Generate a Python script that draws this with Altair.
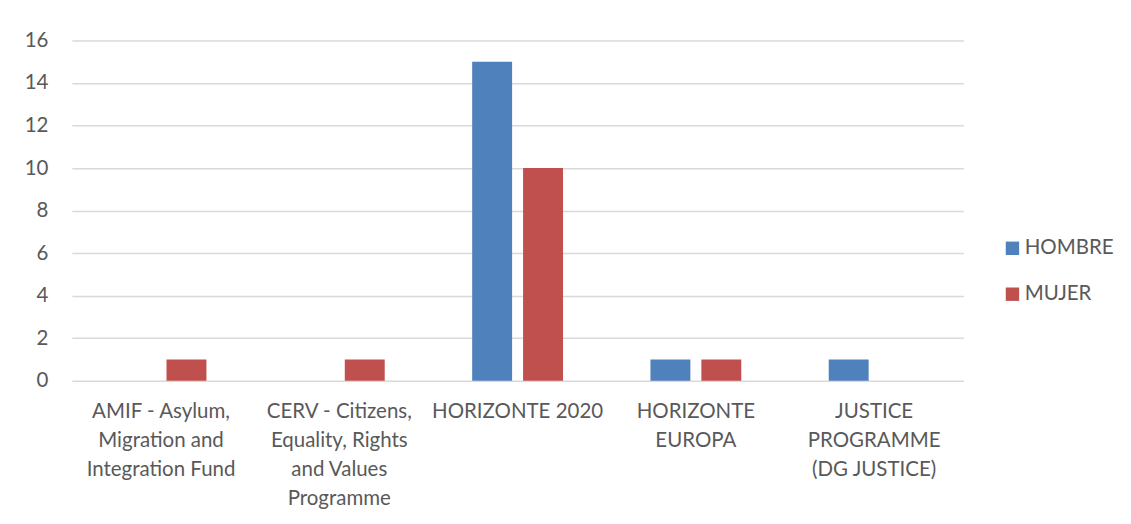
import altair as alt
import pandas as pd

categories = [
    "AMIF - Asylum, Migration and Integration Fund",
    "CERV - Citizens, Equality, Rights and Values Programme",
    "HORIZONTE 2020",
    "HORIZONTE EUROPA",
    "JUSTICE PROGRAMME (DG JUSTICE)",
]
wrapped = [
    ["AMIF - Asylum,", "Migration and", "Integration Fund"],
    ["CERV - Citizens,", "Equality, Rights", "and Values", "Programme"],
    ["HORIZONTE 2020"],
    ["HORIZONTE", "EUROPA"],
    ["JUSTICE", "PROGRAMME", "(DG JUSTICE)"],
]
series = ["HOMBRE", "MUJER"]
hombre = [0, 0, 15, 1, 1]
mujer = [1, 1, 10, 1, 0]
colors = ["#4F81BD", "#C0504D"]

rows = []
for c, h, m in zip(categories, hombre, mujer):
    rows.append({"cat": c, "serie": "HOMBRE", "val": h})
    rows.append({"cat": c, "serie": "MUJER", "val": m})
df = pd.DataFrame(rows)

expr_parts = []
for c, w in zip(categories, wrapped):
    arr = "[" + ",".join("'" + s + "'" for s in w) + "]"
    expr_parts.append(f"datum.label == '{c}' ? {arr}")
label_expr = " : ".join(expr_parts) + " : datum.label"

FONT = "Lato"
GRAY = "#595959"
FS = 20.5

chart = (
    alt.Chart(df)
    .mark_bar()
    .encode(
        x=alt.X(
            "cat:N",
            sort=categories,
            scale=alt.Scale(paddingInner=0, paddingOuter=0),
            axis=alt.Axis(
                title=None,
                labelAngle=0,
                labelExpr=label_expr,
                labelFont=FONT,
                labelFontSize=FS,
                labelColor=GRAY,
                labelLineHeight=29,
                labelPadding=21,
                labelBaseline="top",
                ticks=False,
                domain=False,
                labelLimit=300,
            ),
        ),
        xOffset=alt.XOffset(
            "serie:N",
            sort=series,
            scale=alt.Scale(paddingInner=0.2157, paddingOuter=0.859),
        ),
        y=alt.Y(
            "val:Q",
            scale=alt.Scale(domain=[0, 16], nice=False),
            axis=alt.Axis(
                title=None,
                values=list(range(0, 17, 2)),
                labelFont=FONT,
                labelFontSize=FS,
                labelColor=GRAY,
                labelPadding=24,
                ticks=False,
                domain=False,
                grid=True,
                gridColor="#d9d9d9",
                gridWidth=1.5,
            ),
        ),
        color=alt.Color(
            "serie:N",
            sort=series,
            scale=alt.Scale(domain=series, range=colors),
            legend=alt.Legend(
                title=None,
                orient="none",
                legendX=932,
                legendY=198,
                symbolType="square",
                symbolSize=180,
                symbolStrokeWidth=0,
                labelFont=FONT,
                labelFontSize=FS,
                labelColor=GRAY,
                rowPadding=25,
                labelOffset=2,
            ),
        ),
    )
    .properties(
        width=893,
        height=341,
        autosize=alt.AutoSizeParams(type="none"),
        padding={"left": 64, "top": 32, "right": 160, "bottom": 140},
    )
    .configure(background="white")
    .configure_view(strokeWidth=0, stroke=None)
)

chart.save("out.html", embed_options={"renderer": "svg", "actions": False})
